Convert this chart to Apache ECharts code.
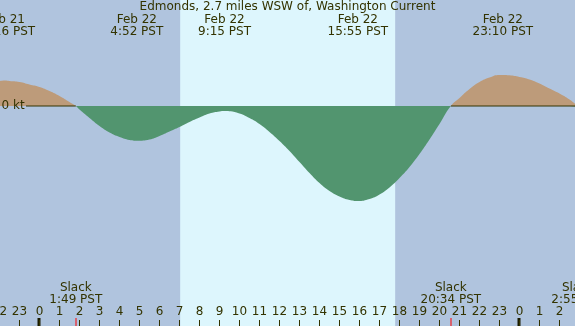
<!DOCTYPE html>
<html><head><meta charset="utf-8">
<script src="https://cdn.jsdelivr.net/npm/echarts@6/dist/echarts.min.js"></script>
<style>html,body{margin:0;padding:0;background:#b0c4de}#c{width:575px;height:326px}</style>
</head><body><div id="c"></div>
<script>
const titleText = 'Edmonds, 2.7 miles WSW of, Washington Current';
// hours since Feb 22 00:00 PST
const curveHours = [-2.0,-1.733,-1.5,-1.0,-0.5,0,0.5,1.0,1.5,1.817,2.0,2.5,3.0,3.5,4.0,4.5,4.867,5.5,6.0,6.5,7.0,7.5,8.0,8.5,9.0,9.25,9.5,10.0,10.5,11.0,11.5,12.0,12.5,13.0,13.5,14.0,14.5,15.0,15.5,15.917,16.5,17.0,17.5,18.0,18.5,19.0,19.5,20.0,20.567,21.0,21.5,22.0,22.5,23.0,23.167,23.5,24.0,24.5,25.0,25.5,26.0,26.5,26.917,27.0];
// current speed in knots (+ flood, - ebb)
const curveKnots = [0.25,0.255,0.25,0.24,0.215,0.19,0.15,0.10,0.04,0,-0.035,-0.12,-0.20,-0.265,-0.31,-0.34,-0.347,-0.335,-0.30,-0.255,-0.21,-0.16,-0.115,-0.075,-0.055,-0.05,-0.052,-0.075,-0.12,-0.18,-0.26,-0.35,-0.45,-0.56,-0.67,-0.77,-0.85,-0.905,-0.94,-0.95,-0.93,-0.885,-0.815,-0.72,-0.61,-0.48,-0.335,-0.18,0,0.08,0.17,0.24,0.285,0.31,0.31,0.307,0.29,0.265,0.225,0.175,0.125,0.065,0,-0.01];

const extremeDay = [-1,0,0,0,0];
const extremeDate = ['Feb 21','Feb 22','Feb 22','Feb 22','Feb 22'];
const extremeClock = ['22:16','4:52','9:15','15:55','23:10'];
const slackDay = [0,0,1];
const slackClock = ['1:49','20:34','2:55'];
const sunriseClock = '7:02';
const sunsetClock = '17:47';
const midnightHours = [0, 24];
const zeroLabel = '0 kt';
const zeroLineStart = -0.675;

const NIGHT = '#b0c4de', DAY = '#ddf6fd', FLOOD = '#bd9b7a', EBB = '#52956f', INK = '#333300';
const FONT = '12px "DejaVu Sans"';

function clockToHours(c, d) { const p = c.split(':'); return d * 24 + (+p[0]) + (+p[1]) / 60; }
const extremeT = extremeClock.map((c, i) => clockToHours(c, extremeDay[i]));
const slackT = slackClock.map((c, i) => clockToHours(c, slackDay[i]));
const sunriseT = clockToHours(sunriseClock, 0), sunsetT = clockToHours(sunsetClock, 0);
const curve = curveHours.map((h, i) => [h, curveKnots[i]]);

const chart = echarts.init(document.getElementById('c'));
chart.setOption({
  animation: false,
  backgroundColor: NIGHT,
  textStyle: { fontFamily: 'DejaVu Sans', fontSize: 12, color: INK },
  grid: { left: -0.5, right: -4.5, top: 0, bottom: 0, containLabel: false, outerBoundsMode: 'none' },
  xAxis: {
    type: 'value', min: -2, max: 27, interval: 1, z: 10,
    axisLine: { show: false, onZero: false }, splitLine: { show: false },
    axisTick: { show: true, inside: true, length: 6, lineStyle: { color: INK, width: 1 } },
    axisLabel: { inside: true, margin: 8, interval: 0, color: INK, fontSize: 12, fontFamily: 'DejaVu Sans',
      showMinLabel: true, showMaxLabel: true, hideOverlap: false,
      formatter: v => String(((Math.round(v) % 24) + 24) % 24) }
  },
  yAxis: {
    type: 'value', min: -2.2, max: 1.06, interval: 1.1, z: 10,
    axisLine: { show: false }, axisTick: { show: false }, splitLine: { show: false },
    axisLabel: { inside: true, margin: 2, color: INK, fontSize: 12, fontFamily: 'DejaVu Sans',
      formatter: v => Math.abs(v) < 1e-9 ? zeroLabel : '' }
  },
  visualMap: { show: false, type: 'piecewise', seriesIndex: 1, dimension: 1,
    pieces: [{ gt: 0, lte: 10, color: FLOOD }, { gt: -10, lte: 0, color: EBB }] },
  series: [
    { type: 'line', z: 1, data: [[sunriseT, 0]], symbol: 'none', lineStyle: { opacity: 0 },
      markArea: { silent: true, itemStyle: { color: DAY }, data: [[{ xAxis: sunriseT }, { xAxis: sunsetT }]] } },
    { type: 'line', z: 2, data: curve, smooth: true, symbol: 'none',
      lineStyle: { width: 0, opacity: 0 }, areaStyle: { opacity: 1 } },
    { type: 'line', z: 3, symbol: 'none', connectNulls: false,
      data: [[zeroLineStart, 0], [slackT[0], 0], '-', [slackT[1], 0], [27, 0]],
      lineStyle: { color: INK, width: 1 } },
    { type: 'custom', z: 4, data: extremeT.map(t => [t, 0]),
      renderItem: (p, api) => ({ type: 'text', x: api.coord([api.value(0), 0])[0], y: 26,
        style: { text: extremeDate[p.dataIndex] + '\n' + extremeClock[p.dataIndex] + ' PST', font: FONT,
          fill: INK, align: 'center', verticalAlign: 'middle', lineHeight: 12 } }) },
    { type: 'custom', z: 4, data: slackT.map(t => [t, 0]),
      renderItem: (p, api) => ({ type: 'text', x: api.coord([api.value(0), 0])[0], y: 294,
        style: { text: 'Slack\n' + slackClock[p.dataIndex] + ' PST', font: FONT,
          fill: INK, align: 'center', verticalAlign: 'middle', lineHeight: 12 } }) },
    { type: 'custom', z: 4, data: slackT.map(t => [t, 0]),
      renderItem: (p, api) => { const x = Math.round(api.coord([api.value(0), 0])[0]);
        return { type: 'rect', shape: { x: x - 0.5, y: 318, width: 1, height: 8 }, style: { fill: '#ff0000' } }; } },
    { type: 'custom', z: 4, data: midnightHours.map(t => [t, 0]),
      renderItem: (p, api) => { const x = api.coord([api.value(0), 0])[0];
        return { type: 'rect', shape: { x: x - 2, y: 318, width: 3, height: 8 }, style: { fill: '#1a1a00' } }; } }
  ],
  title: { text: titleText, left: 'center', top: 0, padding: [1, 0, 0, 0],
    textStyle: { fontFamily: 'DejaVu Sans', fontSize: 12, fontWeight: 'normal', color: INK } }
});
</script></body></html>
